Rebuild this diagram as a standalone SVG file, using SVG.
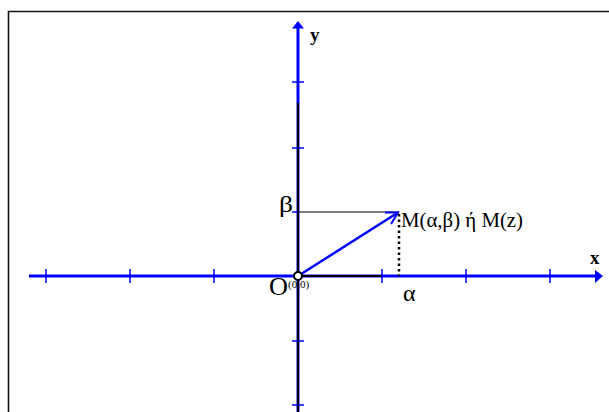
<svg xmlns="http://www.w3.org/2000/svg" width="609" height="412" viewBox="0 0 609 412">
<defs>
<style>
.ax{stroke:#0000ff;stroke-width:3;fill:none}
.bk{stroke:#000;stroke-width:2;fill:none}
.tk{stroke:#0000ff;stroke-width:1.5}
.t{font-family:"Liberation Serif",serif;fill:#000}
</style>
</defs>
<rect width="609" height="412" fill="#fff"/>
<path d="M8.5,412 V11.5 H609" fill="none" stroke="#111" stroke-width="1.6"/>
<g id="connectors">
<line class="ax" x1="29" y1="276" x2="596" y2="276"/>
<polygon points="603,276 595,270 595,283" fill="#0000ff"/>
<line class="ax" x1="298" y1="412" x2="298" y2="28"/>
<polygon points="298,21 292,28.5 304,28.5" fill="#0000ff"/>
<line class="bk" x1="298" y1="103" x2="298" y2="412"/>
<line class="bk" x1="298" y1="276" x2="382" y2="276"/>
<g class="tk">
<line x1="46" y1="269" x2="46" y2="283"/>
<line x1="130" y1="269" x2="130" y2="283"/>
<line x1="214" y1="269" x2="214" y2="283"/>
<line x1="382" y1="269" x2="382" y2="283"/>
<line x1="466" y1="269" x2="466" y2="283"/>
<line x1="550" y1="269" x2="550" y2="283"/>
<line x1="292" y1="82" x2="304" y2="82"/>
<line x1="292" y1="148" x2="304" y2="148"/>
<line x1="292" y1="212" x2="298" y2="212"/>
<line x1="292" y1="341" x2="304" y2="341"/>
<line x1="292" y1="405" x2="304" y2="405"/>
</g>
<line x1="298" y1="212" x2="399" y2="212" stroke="#000" stroke-width="1.2"/>
<line x1="399" y1="214" x2="399" y2="276" stroke="#000" stroke-width="2.5" stroke-dasharray="2.5,3"/>
<line x1="298" y1="276" x2="398" y2="212.5" stroke="#0000ff" stroke-width="2.5"/>
<polyline points="385,212.5 398,212.5 391,224" fill="none" stroke="#0000ff" stroke-width="2"/>
<circle cx="298" cy="276" r="4" fill="#fff" stroke="#000" stroke-width="2"/>
</g>
<g id="labels">
<text class="t" x="279" y="212" font-size="24" textLength="14" lengthAdjust="spacingAndGlyphs">β</text>
<text class="t" x="401" y="227" font-size="22" textLength="122" lengthAdjust="spacingAndGlyphs">M(α,β) ή M(z)</text>
<text class="t" x="269" y="295" font-size="25" textLength="19" lengthAdjust="spacingAndGlyphs">O</text>
<text class="t" x="288" y="288" font-size="11">(0,0)</text>
<text class="t" x="403" y="301" font-size="24">α</text>
<text class="t" x="590" y="264" font-size="19" font-weight="bold">x</text>
<text class="t" x="310" y="41" font-size="19" font-weight="bold">y</text>
</g>
</svg>
